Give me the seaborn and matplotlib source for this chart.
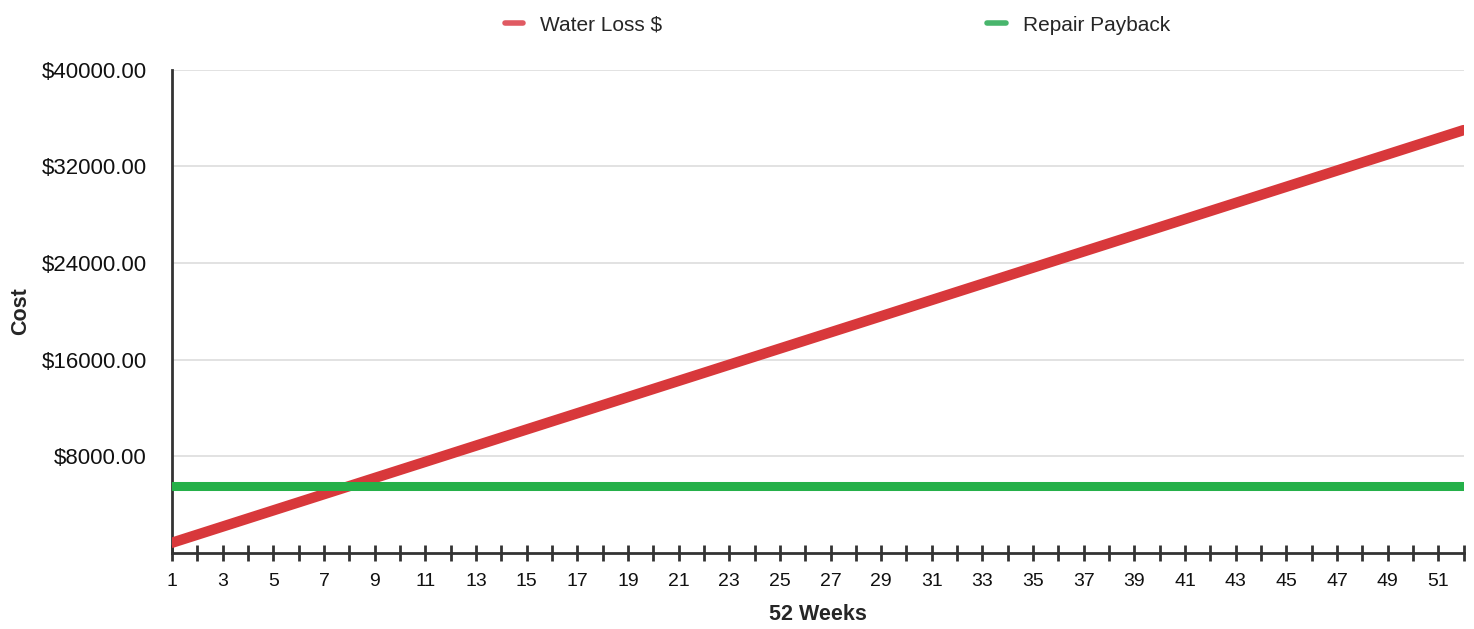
import matplotlib
matplotlib.use("Agg")
import matplotlib.pyplot as plt
import seaborn as sns
import pandas as pd
from matplotlib.ticker import FuncFormatter

#---data---
weeks = list(range(1, 53))
water_loss = [840, 1510, 2180, 2850, 3520, 4190, 4860, 5530, 6200, 6870,
              7540, 8210, 8880, 9550, 10220, 10890, 11560, 12230, 12900, 13570,
              14240, 14910, 15580, 16250, 16920, 17590, 18260, 18930, 19600, 20270,
              20940, 21610, 22280, 22950, 23620, 24290, 24960, 25630, 26300, 26970,
              27640, 28310, 28980, 29650, 30320, 30990, 31660, 32330, 33000, 33670,
              34340, 35010]
repair_payback = [5500] * 52
series_names = ["Water Loss $", "Repair Payback"]
y_ticks = [8000, 16000, 24000, 32000, 40000]

df = pd.DataFrame({
    "week": weeks * 2,
    "cost": water_loss + repair_payback,
    "series": [series_names[0]] * 52 + [series_names[1]] * 52,
})

sns.set_style("white")
plt.rcParams["font.family"] = ["Liberation Sans", "DejaVu Sans"]

fig = plt.figure(figsize=(14.74, 6.29), dpi=100)
ax = fig.add_axes([0.1167, 0.121, 0.8763, 0.768])

line_colors = {"Water Loss $": "#d8383b", "Repair Payback": "#25b049"}
sns.lineplot(data=df, x="week", y="cost", hue="series", palette=line_colors,
             size="series", sizes={"Water Loss $": 7.5, "Repair Payback": 6.5},
             ax=ax, legend=False, zorder=3)

ax.set_xlim(1, 52)
ax.set_ylim(0, 40000)
ax.set_yticks(y_ticks)
ax.yaxis.set_major_formatter(FuncFormatter(lambda v, p: f"${v:.2f}"))
ax.set_xticks(weeks)
ax.set_xticklabels([str(w) if w % 2 == 1 else "" for w in weeks])

ax.grid(axis="y", color="#dddddd", linewidth=1.2)
ax.set_axisbelow(True)
for side in ["top", "right"]:
    ax.spines[side].set_visible(False)
for side in ["left", "bottom"]:
    ax.spines[side].set_color("#333333")
    ax.spines[side].set_linewidth(2)

ax.tick_params(axis="x", bottom=True, direction="inout", length=11, width=2,
               color="#333333", labelsize=14, pad=9, labelcolor="#111111")
ax.tick_params(axis="y", left=False, length=0, labelsize=16, pad=18,
               labelcolor="#111111")

ax.set_xlabel("52 Weeks", fontsize=15.5, fontweight="bold", labelpad=10)
ax.set_ylabel("Cost", fontsize=15.5, fontweight="bold", labelpad=8)

# legend across the top
handles = [plt.Line2D([0], [0], color="#e05a62", linewidth=4),
           plt.Line2D([0], [0], color="#48b56c", linewidth=4)]
fig.legend(handles, series_names, loc="upper center", bbox_to_anchor=(0.568, 1.005),
           ncol=2, frameon=False, fontsize=15, handlelength=0.9,
           handletextpad=0.8, columnspacing=15.6)

plt.savefig("out.png", dpi=100)
